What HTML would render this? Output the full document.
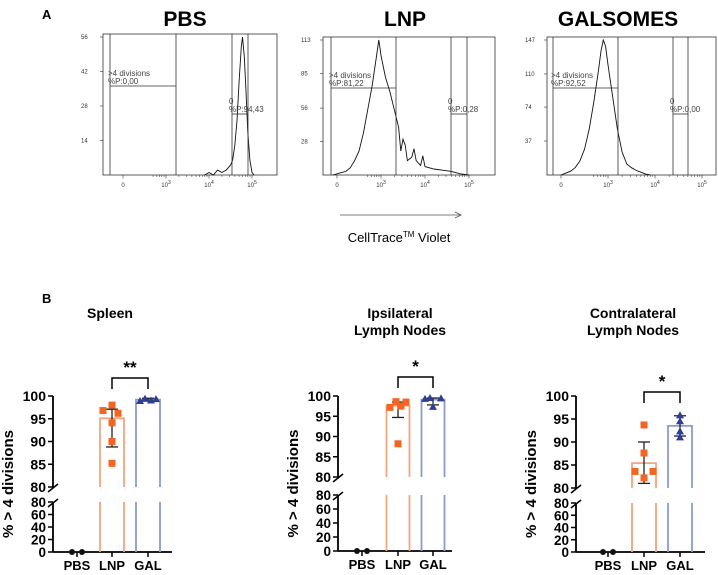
<!DOCTYPE html>
<html><head><meta charset="utf-8"><style>
html,body{margin:0;padding:0;background:#fff;}
svg{display:block;font-family:"Liberation Sans",Arial,sans-serif;}
</style></head><body>
<svg id="fig" width="718" height="575" viewBox="0 0 718 575" xmlns="http://www.w3.org/2000/svg">
<text x="42" y="19" font-size="13" font-weight="bold">A</text>
<text x="185" y="26" font-size="21" font-weight="bold" text-anchor="middle">PBS</text>
<text x="405" y="26" font-size="21" font-weight="bold" text-anchor="middle">LNP</text>
<text x="618" y="26" font-size="21" font-weight="bold" text-anchor="middle">GALSOMES</text>
<line x1="340" y1="215" x2="460" y2="215" stroke="#555" stroke-width="0.8"/>
<path d="M455,212 L461,215 L455,218" fill="none" stroke="#555" stroke-width="0.8"/>
<text x="399" y="242" font-size="13" text-anchor="middle">CellTrace<tspan font-size="8" dy="-5">TM</tspan><tspan dy="5"> Violet</tspan></text>
<text x="42" y="303" font-size="13" font-weight="bold">B</text>
<g id="hists"></g>
<g id="bars"></g>
</svg>
<script>
// ---------- Histogram data (u = log10 channel, counts) ----------
const pbsU = [3.9,4.0,4.1,4.2,4.3,4.4,4.45,4.5,4.55,4.6,4.65,4.7,4.75,4.78,4.82,4.86,4.9,4.95,5.0,5.05];
const pbsC = [0,1,0,2,1,2,3,4,6,12,22,38,52,56,48,34,18,6,1,0];
const lnpU = [1.9,2.0,2.1,2.2,2.3,2.4,2.5,2.6,2.7,2.8,2.9,2.95,3.0,3.1,3.2,3.3,3.4,3.45,3.5,3.55,3.6,3.7,3.75,3.8,3.9,3.95,4.0,4.1,4.2,4.4,4.6,4.8,5.0];
const lnpC = [0,1,2,3,6,12,20,35,55,75,100,113,100,82,70,55,40,20,30,25,12,15,22,12,8,16,7,6,5,4,3,1,0];
const galU = [2.0,2.1,2.2,2.3,2.4,2.5,2.6,2.7,2.8,2.85,2.9,2.95,3.0,3.1,3.2,3.3,3.4,3.5,3.6,3.7,3.8,3.9];
const galC = [0,2,4,8,15,28,50,80,115,135,147,140,120,85,50,25,12,8,5,3,1,0];
const pbsTicks = ["56","42","28","14"], pbsTickV = [56,42,28,14];
const lnpTicks = ["113","85","56","28"], lnpTickV = [113,85,56,28];
const galTicks = ["147","110","74","37"], galTickV = [147,110,74,37];

// ---------- Bar chart data ----------
const groups = ["PBS","LNP","GAL"];
const spleenLNP = [98.0,96.8,96.2,94.1,90.0,85.2];
const spleenGAL = [98.9,99.4,99.0,99.3];
const ipsiLNP = [97.2,98.6,97.5,98.5,88.2];
const ipsiGAL = [99.3,99.5,97.3,99.4];
const contraLNP = [93.7,87.6,83.6,82.2,83.6];
const contraGAL = [95.8,94.5,92.3,91.0];
const pbsVals = [0,0];
const spleenStats = {lnp:[95.1,88.8,97.1], gal:[99.2,98.9,99.5]};
const ipsiStats = {lnp:[97.6,94.7,98.5], gal:[99.1,97.8,99.5]};
const contraStats = {lnp:[85.4,81.0,90.0], gal:[93.5,91.3,95.7]};
const upperTicks = [100,95,90,85,80];
const lowerTicks = [80,60,40,20,0];

const NS="http://www.w3.org/2000/svg";
function mk(parent,tag,attrs,txt){const e=document.createElementNS(NS,tag);for(const k in attrs)e.setAttribute(k,attrs[k]);if(txt!==undefined)e.textContent=txt;parent.appendChild(e);return e;}

function hist(cfg,U,C,tl,tv,name){
  const g=mk(document.getElementById('hists'),'g',{});
  
  
  const {x0,x1,y0,y1,d3,pd,max,gate1,gate2,h1,h2,lab1,lab2}=cfg;
  const X=u=>d3+(u-3)*pd, Y=c=>y1-c*(y1-y0-3)/max;
  mk(g,'rect',{x:x0,y:y0,width:x1-x0,height:y1-y0,fill:'none',stroke:'#333','stroke-width':0.8});
  tv.forEach((v,i)=>{mk(g,'line',{x1:x0-3,x2:x0,y1:Y(v),y2:Y(v),stroke:'#333','stroke-width':0.6});
    mk(g,'text',{x:x0-22,y:Y(v)+2,'font-size':6,fill:'#333'},tl[i]);});
  const zx=d3-pd*1.0;
  mk(g,'text',{x:zx,y:y1+12,'font-size':6,'text-anchor':'middle',fill:'#333'},'0');
  [3,4,5].forEach(p=>{const t=mk(g,'text',{x:X(p),y:y1+12,'font-size':6,'text-anchor':'middle',fill:'#333'},'10');
    mk(t,'tspan',{dy:-3,'font-size':5},String(p));});
  for(let p=2;p<5;p++)for(let k=2;k<10;k++){const xx=X(p+Math.log10(k));if(p===2&&k<5)continue;
    mk(g,'line',{x1:xx,x2:xx,y1:y1,y2:y1+2,stroke:'#333','stroke-width':0.5});}
  [zx,X(3),X(4),X(5)].forEach(xx=>mk(g,'line',{x1:xx,x2:xx,y1:y1,y2:y1+3.5,stroke:'#333','stroke-width':0.6}));
  let d='';U.forEach((u,i)=>{d+=(i?'L':'M')+X(u).toFixed(1)+','+Y(C[i]).toFixed(1);});
  const p=mk(g,'path',{d:d,fill:'none',stroke:'#111','stroke-width':0.9});
  
  
  gate1.forEach(x=>mk(g,'line',{x1:x,x2:x,y1:y0,y2:y1,stroke:'#333','stroke-width':0.8}));
  gate2.forEach(x=>mk(g,'line',{x1:x,x2:x,y1:y0,y2:y1,stroke:'#333','stroke-width':0.8}));
  mk(g,'line',{x1:gate1[0],x2:gate1[1],y1:h1,y2:h1,stroke:'#333','stroke-width':0.8});
  mk(g,'line',{x1:gate2[0],x2:gate2[1],y1:h2,y2:h2,stroke:'#333','stroke-width':0.8});
  mk(g,'text',{x:gate1[0]-2,y:h1-10,'font-size':8,fill:'#444'},'>4 divisions');
  mk(g,'text',{x:gate1[0]-2,y:h1-2,'font-size':8,fill:'#444'},lab1);
  mk(g,'text',{x:gate2[0]-3,y:h2-10,'font-size':8,fill:'#444'},'0');
  mk(g,'text',{x:gate2[0]-3,y:h2-2,'font-size':8,fill:'#444'},lab2);
}
hist({x0:103,x1:277,y0:34,y1:175,d3:166,pd:43,max:56,gate1:[110,176],gate2:[232,248],h1:86,h2:114,lab1:'%P:0,00',lab2:'%P:94,43'},pbsU,pbsC,pbsTicks,pbsTickV,'pbs-histogram');
hist({x0:323,x1:495,y0:37,y1:175,d3:381,pd:44,max:113,gate1:[331,396],gate2:[451,467],h1:88,h2:114,lab1:'%P:81,22',lab2:'%P:0,28'},lnpU,lnpC,lnpTicks,lnpTickV,'lnp-histogram');
hist({x0:547,x1:716,y0:37,y1:175,d3:608,pd:47,max:147,gate1:[553,618],gate2:[673,688],h1:88,h2:114,lab1:'%P:92,52',lab2:'%P:0,00'},galU,galC,galTicks,galTickV,'gal-histogram');

function barPanel(c,lnp,gal,st,name){
  const g=mk(document.getElementById('bars'),'g',{});
  
  
  const {ax,u100,u80,l80,l0,xs,end,bw,title,br,star,jit}=c;
  const Yu=v=>u80-(v-80)*(u80-u100)/20, Yl=v=>l0-v*(l0-l80)/80;
  const Y=v=>v>=80?Yu(v):Yl(v);
  title.forEach((t,i)=>mk(g,'text',{x:c.tx,y:318+i*17,'font-size':14,'font-weight':'bold','text-anchor':'middle'},t));
  mk(g,'line',{x1:ax,x2:ax,y1:u100,y2:u80,stroke:'#000','stroke-width':1.8});
  mk(g,'line',{x1:ax,x2:ax,y1:l80,y2:l0,stroke:'#000','stroke-width':1.8});
  mk(g,'line',{x1:ax-5,x2:ax+5,y1:u80+5,y2:u80-3,stroke:'#000','stroke-width':1.5});
  mk(g,'line',{x1:ax-5,x2:ax+5,y1:l80+5,y2:l80-3,stroke:'#000','stroke-width':1.5});
  mk(g,'line',{x1:ax,x2:end,y1:l0,y2:l0,stroke:'#000','stroke-width':1.8});
  upperTicks.forEach(v=>{mk(g,'line',{x1:ax-5,x2:ax,y1:Yu(v),y2:Yu(v),stroke:'#000','stroke-width':1.5});
    mk(g,'text',{x:ax-7,y:Yu(v)+5,'font-size':14,'font-weight':'bold','text-anchor':'end'},String(v));});
  lowerTicks.forEach(v=>{mk(g,'line',{x1:ax-5,x2:ax,y1:Yl(v),y2:Yl(v),stroke:'#000','stroke-width':1.5});
    mk(g,'text',{x:ax-7,y:Yl(v)+5,'font-size':13.5,'font-weight':'bold','text-anchor':'end'},String(v));});
  mk(g,'text',{x:0,y:0,'font-size':15,'font-weight':'bold','text-anchor':'middle',transform:`translate(${ax-40},${(u100+l0)/2+10}) rotate(-90)`},'% > 4 divisions');
  groups.forEach((gr,i)=>{mk(g,'line',{x1:xs[i],x2:xs[i],y1:l0,y2:l0+5,stroke:'#000','stroke-width':1.5});
    mk(g,'text',{x:xs[i],y:l0+18,'font-size':13,'font-weight':'bold','text-anchor':'middle'},gr);});
  const cols=['#f4a580','#8b9bd0'], dark=['#f26522','#2e3f92'];
  [[st.lnp,lnp],[st.gal,gal]].forEach(([s,pts],k)=>{
    const cx=xs[k+1], x0=cx-bw/2, x1=cx+bw/2, yt=Yu(s[0]);
    const b=mk(g,'path',{d:`M${x0},${l0}V${l80}M${x0},${u80}V${yt}H${x1}V${u80}M${x1},${l80}V${l0}`,fill:'none',stroke:cols[k],'stroke-width':1.8});
    
    
    mk(g,'line',{x1:cx,x2:cx,y1:Yu(s[1]),y2:Yu(s[2]),stroke:'#222','stroke-width':1.3});
    [1,2].forEach(j=>mk(g,'line',{x1:cx-6,x2:cx+6,y1:Yu(s[j]),y2:Yu(s[j]),stroke:'#222','stroke-width':1.3}));
    const jj=jit[k];
    pts.forEach((v,i)=>{const px=cx+(jj[i]||0), py=Yu(v);
      let m;
      if(k===0) m=mk(g,'rect',{x:px-3.5,y:py-3.5,width:7,height:7,fill:dark[0]});
      else m=mk(g,'path',{d:`M${px},${py-4}L${px+4},${py+3}L${px-4},${py+3}Z`,fill:dark[1]});
      
      
    });
  });
  pbsVals.forEach((v,i)=>{const p=mk(g,'circle',{cx:xs[0]+(i?5:-5),cy:Y(v),r:3,fill:'#111'});
    
    });
  mk(g,'path',{d:`M${xs[1]},${br+11}V${br}H${xs[2]}V${br+11}`,fill:'none',stroke:'#000','stroke-width':1.5});
  mk(g,'text',{x:(xs[1]+xs[2])/2,y:br-5,'font-size':17,'font-weight':'bold','text-anchor':'middle'},star);
}
barPanel({ax:53,u100:396,u80:487,l80:502,l0:552,xs:[77,112,148],end:172,bw:24,title:['Spleen'],tx:110,br:378,star:'**',
  jit:[[0,-9,6,0,0,0],[-8,-3,3,8]]},spleenLNP,spleenGAL,spleenStats,'spleen-chart');
barPanel({ax:338,u100:396,u80:477,l80:495,l0:551,xs:[362,398,433],end:452,bw:23,title:['Ipsilateral','Lymph Nodes'],tx:400,br:377,star:'*',
  jit:[[-8,-2,3,8,0],[-8,-3,0,8]]},ipsiLNP,ipsiGAL,ipsiStats,'ipsilateral-chart');
barPanel({ax:576,u100:396,u80:488,l80:503,l0:552,xs:[608,644,680],end:705,bw:24,title:['Contralateral','Lymph Nodes'],tx:633,br:392,star:'*',
  jit:[[0,0,-9,0,9],[0,0,0,0]]},contraLNP,contraGAL,contraStats,'contralateral-chart');
</script>
</body></html>
